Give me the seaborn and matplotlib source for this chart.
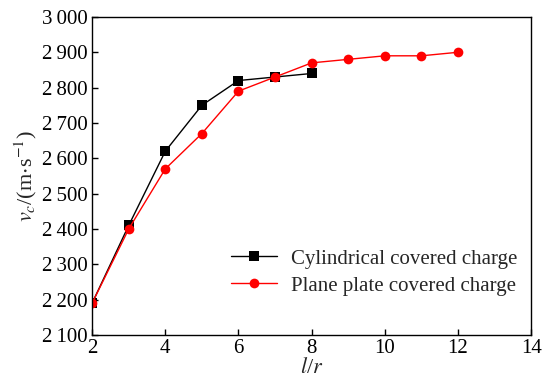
import matplotlib
matplotlib.use("Agg")
import matplotlib.pyplot as plt
import seaborn as sns
import pandas as pd

x_cyl = [2, 3, 4, 5, 6, 7, 8]
v_cyl = [2190, 2410, 2620, 2750, 2820, 2830, 2840]
x_plate = [2, 3, 4, 5, 6, 7, 8, 9, 10, 11, 12]
v_plate = [2190, 2400, 2570, 2670, 2790, 2830, 2870, 2880, 2890, 2890, 2900]
labels = ["Cylindrical covered charge", "Plane plate covered charge"]
xticks = [2, 4, 6, 8, 10, 12, 14]
yticks = [2100, 2200, 2300, 2400, 2500, 2600, 2700, 2800, 2900, 3000]

sns.set_style("ticks")
plt.rcParams['font.family'] = ['Liberation Serif', 'DejaVu Serif']
plt.rcParams['mathtext.fontset'] = 'stix'

df = pd.concat([
    pd.DataFrame({"x": x_cyl, "v": v_cyl, "s": labels[0]}),
    pd.DataFrame({"x": x_plate, "v": v_plate, "s": labels[1]}),
])

fig = plt.figure(figsize=(5.42, 3.85), dpi=100)
ax = fig.add_axes([0.170, 0.130, 0.810, 0.826])
sns.lineplot(data=df, x="x", y="v", hue="s", style="s",
             palette={labels[0]: "black", labels[1]: "#ff0000"},
             markers={labels[0]: "s", labels[1]: "o"}, dashes=False,
             markersize=7, linewidth=1, markeredgewidth=0, ax=ax)

ax.set_xlim(2, 14)
ax.set_ylim(2100, 3000)
ax.set_xticks(xticks)
ax.set_xticklabels([str(t) for t in xticks])
ax.set_yticks(yticks)
ax.set_yticklabels([f"{t // 1000}\u2009{t % 1000:03d}" for t in yticks])
ax.tick_params(direction="in", length=4, width=1, labelsize=15, colors="black", pad=3)
for sp in ax.spines.values():
    sp.set_linewidth(1)
    sp.set_color("black")
ax.set_xlabel(r"$l$/$r$", fontsize=16, labelpad=0)
ax.set_ylabel(r"$v_c$/(m$\cdot$s$^{-1}$)", fontsize=16, labelpad=2)
leg = ax.legend(loc="lower right", bbox_to_anchor=(1.012, 0.065), frameon=False,
                fontsize=15, handlelength=2.2, handletextpad=0.7, labelspacing=0.35)
fig.savefig("out.png", dpi=100)
